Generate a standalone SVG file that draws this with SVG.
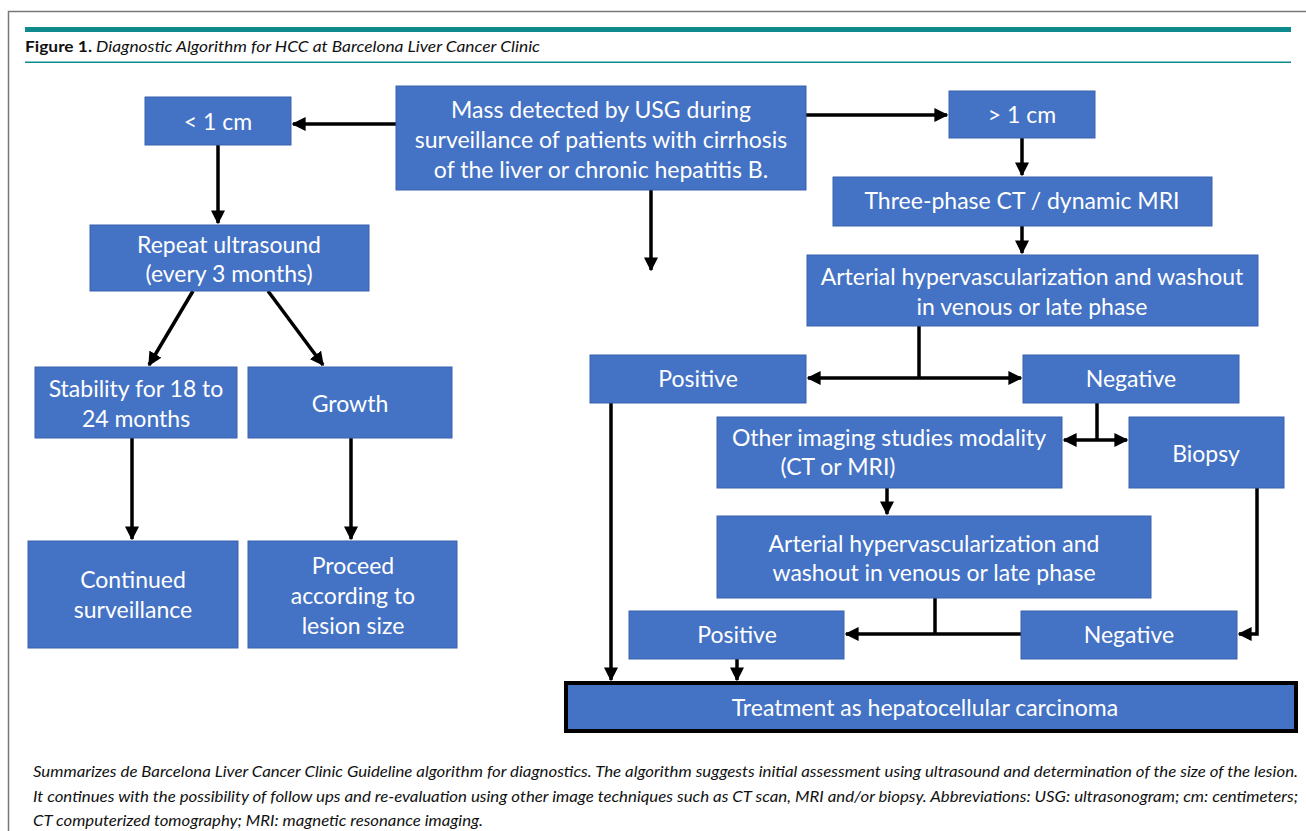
<svg xmlns="http://www.w3.org/2000/svg" width="1306" height="831" viewBox="0 0 1306 831">
<defs>
<marker id="ah" viewBox="0 0 10 10" refX="9" refY="5" markerWidth="4" markerHeight="4" markerUnits="strokeWidth" orient="auto-start-reverse">
<path d="M0,0 L10,5 L0,10 z" fill="#000"/>
</marker>
</defs>
<style>
.b{fill:#4472C4;stroke:#3A63AE;stroke-width:1}
.t{font-family:Lato,"Open Sans",sans-serif;font-size:23px;fill:#fff;text-anchor:middle}
.c{stroke:#000;stroke-width:3.5;fill:none}
.a{marker-end:url(#ah)}
.cap{font-family:Lato,"Open Sans",sans-serif;font-size:15.5px;font-style:italic;fill:#111}
</style>
<rect width="1306" height="831" fill="#fff"/>
<g id="frame">
<path d="M8.5,831 V11.5 H1306" fill="none" stroke="#777" stroke-width="1.5"/>
<rect x="25" y="27" width="1266" height="5" fill="#0E8A8C"/>
<rect x="25" y="61.5" width="1266" height="1.5" fill="#0E8A8C"/>
</g>
<g id="title">
<text x="25" y="52" style="font-family:Lato,'Open Sans',sans-serif;font-size:15.5px;fill:#111" textLength="515" lengthAdjust="spacingAndGlyphs"><tspan font-weight="bold">Figure 1.</tspan><tspan font-style="italic"> Diagnostic Algorithm for HCC at Barcelona Liver Cancer Clinic</tspan></text>
</g>
<g id="connectors">
<line class="c a" x1="396" y1="124" x2="293" y2="124"/>
<line class="c a" x1="806" y1="115" x2="947" y2="115"/>
<line class="c a" x1="651" y1="190" x2="651" y2="270"/>
<line class="c a" x1="218" y1="145" x2="218" y2="223"/>
<line class="c a" x1="1022" y1="138" x2="1022" y2="175"/>
<line class="c a" x1="1022" y1="226" x2="1022" y2="253"/>
<line class="c" x1="919" y1="326" x2="919" y2="378"/>
<line class="c a" x1="919" y1="378" x2="808" y2="378"/>
<line class="c a" x1="919" y1="378" x2="1021" y2="378"/>
<line class="c" x1="1097" y1="403" x2="1097" y2="440"/>
<line class="c a" x1="1097" y1="440" x2="1064" y2="440"/>
<line class="c a" x1="1097" y1="440" x2="1127" y2="440"/>
<line class="c a" x1="887" y1="488" x2="887" y2="514"/>
<line class="c" x1="935" y1="598" x2="935" y2="634"/>
<line class="c a" x1="1021" y1="634" x2="846" y2="634"/>
<path class="c a" d="M1257,488 V634 H1239"/>
<line class="c a" x1="611" y1="403" x2="611" y2="680"/>
<line class="c a" x1="737" y1="659" x2="737" y2="680"/>
<line class="c a" x1="193" y1="291" x2="149" y2="365"/>
<line class="c a" x1="268" y1="291" x2="323" y2="365"/>
<line class="c a" x1="132" y1="438" x2="132" y2="539"/>
<line class="c a" x1="351" y1="438" x2="351" y2="539"/>
</g>
<g id="mass"><rect class="b" x="396" y="86" width="410" height="104"/>
<text class="t" x="601" y="118">Mass detected by USG during</text>
<text class="t" x="601" y="148">surveillance of patients with cirrhosis</text>
<text class="t" x="601" y="178">of the liver or chronic hepatitis B.</text></g>
<g id="lt1"><rect class="b" x="145" y="97" width="146" height="48"/><text class="t" x="218" y="130">&lt; 1 cm</text></g>
<g id="gt1"><rect class="b" x="949" y="91" width="146" height="47"/><text class="t" x="1022" y="123">&gt; 1 cm</text></g>
<g id="ct"><rect class="b" x="833" y="177" width="379" height="49"/><text class="t" x="1022" y="209">Three-phase CT / dynamic MRI</text></g>
<g id="art1"><rect class="b" x="807" y="255" width="451" height="71"/>
<text class="t" x="1032" y="285">Arterial hypervascularization and washout</text>
<text class="t" x="1032" y="315">in venous or late phase</text></g>
<g id="pos1"><rect class="b" x="590" y="355" width="216" height="48"/><text class="t" x="698" y="387">Positive</text></g>
<g id="neg1"><rect class="b" x="1023" y="355" width="216" height="48"/><text class="t" x="1131" y="387">Negative</text></g>
<g id="other"><rect class="b" x="717" y="417" width="345" height="71"/>
<text class="t" x="889" y="446">Other imaging studies modality</text>
<text class="t" x="838" y="475">(CT or MRI)</text></g>
<g id="biopsy"><rect class="b" x="1129" y="417" width="155" height="71"/><text class="t" x="1206" y="462">Biopsy</text></g>
<g id="art2"><rect class="b" x="717" y="516" width="434" height="82"/>
<text class="t" x="934" y="552">Arterial hypervascularization and</text>
<text class="t" x="934" y="581">washout in venous or late phase</text></g>
<g id="pos2"><rect class="b" x="629" y="611" width="215" height="48"/><text class="t" x="737" y="643">Positive</text></g>
<g id="neg2"><rect class="b" x="1021" y="611" width="216" height="48"/><text class="t" x="1129" y="643">Negative</text></g>
<g id="treat"><rect x="566" y="683" width="730" height="48" fill="#4472C4" stroke="#000" stroke-width="4"/><text class="t" x="925" y="716">Treatment as hepatocellular carcinoma</text></g>
<g id="repeat"><rect class="b" x="90" y="225" width="279" height="66"/>
<text class="t" x="229" y="253">Repeat ultrasound</text>
<text class="t" x="229" y="282">(every 3 months)</text></g>
<g id="stab"><rect class="b" x="35" y="367" width="202" height="71"/>
<text class="t" x="136" y="397">Stability for 18 to</text>
<text class="t" x="136" y="427">24 months</text></g>
<g id="growth"><rect class="b" x="248" y="367" width="204" height="71"/><text class="t" x="350" y="412">Growth</text></g>
<g id="cont"><rect class="b" x="28" y="541" width="210" height="107"/>
<text class="t" x="133" y="588">Continued</text>
<text class="t" x="133" y="618">surveillance</text></g>
<g id="proceed"><rect class="b" x="248" y="541" width="209" height="107"/>
<text class="t" x="353" y="574">Proceed</text>
<text class="t" x="353" y="604">according to</text>
<text class="t" x="353" y="634">lesion size</text></g>
<g id="caption">
<text class="cap" x="33" y="777" textLength="1265" lengthAdjust="spacingAndGlyphs">Summarizes de Barcelona Liver Cancer Clinic Guideline algorithm for diagnostics. The algorithm suggests initial assessment using ultrasound and determination of the size of the lesion.</text>
<text class="cap" x="33" y="802" textLength="1265" lengthAdjust="spacingAndGlyphs">It continues with the possibility of follow ups and re-evaluation using other image techniques such as CT scan, MRI and/or biopsy. Abbreviations: USG: ultrasonogram; cm: centimeters;</text>
<text class="cap" x="33" y="826" textLength="450" lengthAdjust="spacingAndGlyphs">CT computerized tomography; MRI: magnetic resonance imaging.</text>
</g>
</svg>
